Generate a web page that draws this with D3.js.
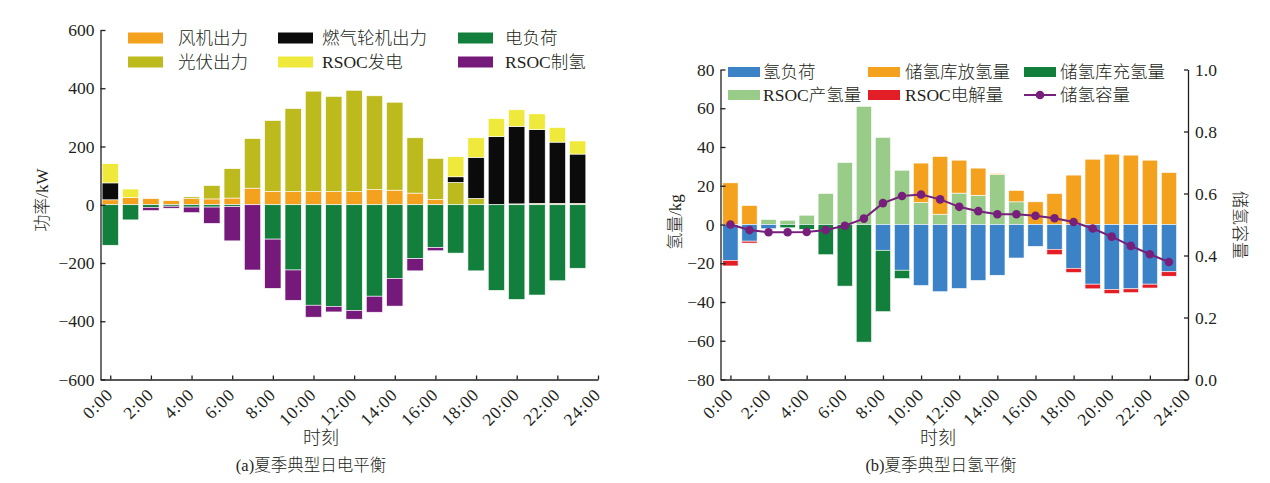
<!DOCTYPE html>
<html>
<head>
<meta charset="utf-8">
<script src="https://cdn.jsdelivr.net/npm/d3@7"></script>
<style>
    body { margin: 0; background: #fff; }
    svg text { font-family: "Liberation Serif", "Noto Sans CJK SC", serif; fill: #231f20; }
</style>
</head>
<body>
<div id="chart"></div>
<script>
// hours of the day and x tick labels
const hours = [0, 1, 2, 3, 4, 5, 6, 7, 8, 9, 10, 11, 12, 13, 14, 15, 16, 17, 18, 19, 20, 21, 22, 23];
const tickHours = [0, 2, 4, 6, 8, 10, 12, 14, 16, 18, 20, 22, 24];
const tickLabels = ["0:00", "2:00", "4:00", "6:00", "8:00", "10:00", "12:00", "14:00", "16:00", "18:00", "20:00", "22:00", "24:00"];

// (a) electric balance, kW
const windPower = [17, 25, 21, 14, 21, 20, 23, 57, 46, 45, 45, 45, 45, 52, 50, 40, 18, 0, 0, 0, 3, 5, 5, 5];
const pvPower = [0, 0, 0, 0, 6, 46, 101, 170, 243, 285, 345, 327, 348, 322, 302, 190, 141, 77, 22, 0, 0, 0, 0, 0];
const gasPower = [58, 0, 0, 0, 0, 0, 0, 0, 0, 0, 0, 0, 0, 0, 0, 0, 0, 19, 141, 234, 266, 253, 210, 169];
const rsocGen = [66, 29, 0, 0, 0, 0, 0, 0, 0, 0, 0, 0, 0, 0, 0, 0, 0, 69, 67, 62, 57, 54, 50, 45];
const elecLoad = [139, 52, 9, 5, 8, 8, 6, 0, 118, 224, 345, 349, 363, 314, 253, 185, 147, 166, 227, 294, 325, 310, 261, 218];
const rsocToH2 = [0, 0, 11, 7, 19, 56, 118, 224, 169, 104, 41, 19, 30, 55, 95, 42, 11, 0, 0, 0, 0, 0, 0, 0];
const elecTicks = [-600, -400, -200, 0, 200, 400, 600];

// (b) hydrogen balance, kg
const h2Load = [18.5, 8.6, 2.2, 0, 0, 0, 0, 0, 13.3, 23.6, 31.5, 34.7, 33, 28.9, 26.2, 17.3, 11.3, 12.8, 22.6, 30.8, 33.5, 33.2, 30.8, 24.4];
const rsocElec = [2.9, 1.0, 0, 0, 0, 0, 0, 0, 0, 0, 0, 0, 0, 0, 0, 0, 0, 2.8, 2.2, 2.4, 2.2, 2.0, 2.0, 2.3];
const storeCharge = [0, 0, 0, 1.7, 2.5, 15.6, 31.8, 60.7, 31.7, 4.3, 0, 0, 0, 0, 0, 0, 0, 0, 0, 0, 0, 0, 0, 0];
const rsocProd = [0, 0, 2.6, 2.2, 4.8, 16, 32, 61, 45, 28, 11.4, 5.3, 16.2, 15.1, 25.8, 11.7, 0, 0, 0, 0, 0, 0, 0, 0];
const storeRelease = [21.5, 9.8, 0, 0, 0, 0, 0, 0, 0, 0, 20.3, 29.8, 17, 14, 0.5, 5.9, 11.7, 16, 25.5, 33.7, 36.3, 35.8, 33.2, 26.8];
const storeLevel = [0.500, 0.482, 0.475, 0.475, 0.476, 0.482, 0.496, 0.519, 0.569, 0.592, 0.597, 0.581, 0.557, 0.543, 0.533, 0.533, 0.528, 0.520, 0.508, 0.487, 0.461, 0.431, 0.404, 0.379];
const h2Ticks = [-80, -60, -40, -20, 0, 20, 40, 60, 80];
const levelTicks = [0, 0.2, 0.4, 0.6, 0.8, 1.0];

const FONT = '"Liberation Serif", "Noto Sans CJK SC", serif';
const INK = "#231f20";

const svg = d3.create("svg")
    .attr("width", 1270)
    .attr("height", 483)
    .attr("viewBox", [0, 0, 1270, 483]);
svg.append("rect").attr("width", 1270).attr("height", 483).attr("fill", "#fff");


function _stackBars(rows, keys, colors, x, y, bw) {
    const series = d3.stack().keys(keys).offset(d3.stackOffsetDiverging)(rows);
    series.forEach((s, k) => {
        svg.append("g").attr("fill", colors[k])
            .selectAll("rect")
            .data(s.filter(d => d[0] !== d[1]))
            .join("rect")
            .attr("x", d => x(d.data.hour) - bw / 2)
            .attr("width", bw)
            .attr("y", d => y(Math.max(d[0], d[1])))
            .attr("height", d => Math.abs(y(d[0]) - y(d[1])))
            .attr("stroke", "#fff")
            .attr("stroke-width", 0.6);
    });
}

function _styleAxis(g) {
    g.attr("font-family", FONT).attr("font-size", 17.5);
    g.selectAll("path, line").attr("stroke", INK).attr("stroke-width", 1.3);
    g.selectAll("text").attr("fill", INK);
}

function _xAxis(x, y0) {
    const g = svg.append("g").attr("transform", `translate(0,${y0})`)
        .call(d3.axisBottom(x).tickValues(tickHours).tickFormat((d, i) => tickLabels[i])
            .tickSize(-4).tickSizeOuter(0));
    _styleAxis(g);
    g.selectAll("text")
        .attr("text-anchor", "end")
        .attr("letter-spacing", 0.8)
        .attr("y", 0)
        .attr("dy", "0.35em")
        .attr("transform", "translate(-1,12) rotate(-45)");
}

function _yAxisLeft(y, x0, ticks, fmt) {
    const g = svg.append("g").attr("transform", `translate(${x0},0)`)
        .call(d3.axisLeft(y).tickValues(ticks).tickFormat(fmt).tickSize(-5).tickSizeOuter(0).tickPadding(6));
    _styleAxis(g);
}

function _label(text, x, y, size, rot) {
    svg.append("text")
        .attr("transform", `translate(${x},${y}) rotate(${rot || 0})`)
        .attr("text-anchor", "middle")
        .attr("dy", "0.35em")
        .attr("font-size", size)
        .attr("font-weight", 300)
        .text(text);
}

function _legend(items, cols, rowsY, sw, sh) {
    items.forEach((it, i) => {
        const cx = cols[i % 3], cy = rowsY[Math.floor(i / 3)];
        if (it.line) {
            svg.append("line").attr("x1", cx[0]).attr("x2", cx[0] + sw)
                .attr("y1", cy).attr("y2", cy).attr("stroke", it.color).attr("stroke-width", 2);
            svg.append("circle").attr("cx", cx[0] + sw / 2).attr("cy", cy).attr("r", 4.3).attr("fill", it.color);
        } else {
            svg.append("rect").attr("x", cx[0]).attr("y", cy - sh / 2)
                .attr("width", sw).attr("height", sh).attr("fill", it.color);
        }
        svg.append("text").attr("x", cx[1]).attr("y", cy).attr("dy", "0.35em")
            .attr("font-size", 17.5).attr("font-weight", 300).text(it.name);
    });
}


function _plotElectric() {
    const x = d3.scaleLinear().domain([-0.48, 24]).range([100.5, 598]);
    const y = d3.scaleLinear().domain([-600, 600]).range([379.5, 30]);
    const rows = hours.map((h, i) => ({
        hour: h, wind: windPower[i], pv: pvPower[i], gas: gasPower[i], rsoc: rsocGen[i],
        load: -elecLoad[i], h2: -rsocToH2[i]
    }));
    _stackBars(rows, ["wind", "pv", "gas", "rsoc", "load", "h2"],
        ["#f4a11d", "#bcba1c", "#0b0b0b", "#eee93a", "#137f3c", "#751a7b"], x, y, 16.3);
    _xAxis(x, y(-600));
    _yAxisLeft(y, x(-0.48), elecTicks, d3.format("d"));

    _legend([
        {name: "风机出力", color: "#f4a11d"}, {name: "燃气轮机出力", color: "#0b0b0b"}, {name: "电负荷", color: "#137f3c"},
        {name: "光伏出力", color: "#bcba1c"}, {name: "RSOC发电", color: "#eee93a"}, {name: "RSOC制氢", color: "#751a7b"}
    ], [[128, 178], [278, 322], [458, 505]], [38, 62], 35, 11);

    _label("功率/kW", 42, 200, 17, -90);
    _label("时刻", 321, 438, 18);
    _label("(a)夏季典型日电平衡", 311, 465, 16.5);
}

function _plotHydrogen() {
    const x = d3.scaleLinear().domain([-0.52, 24]).range([720.5, 1188]);
    const y = d3.scaleLinear().domain([-80, 80]).range([379.5, 69.5]);
    const yR = d3.scaleLinear().domain([0, 1]).range([379.5, 69.5]);
    const rows = hours.map((h, i) => ({
        hour: h, prod: rsocProd[i], release: storeRelease[i],
        load: -h2Load[i], elec: -rsocElec[i], charge: -storeCharge[i]
    }));
    _stackBars(rows, ["prod", "release", "load", "elec", "charge"],
        ["#99cc89", "#f4a11d", "#3b83c6", "#e41e26", "#137f3c"], x, y, 15.3);

    const line = d3.line().x((d, i) => x(hours[i])).y(d => yR(d));
    svg.append("path").datum(storeLevel)
        .attr("fill", "none").attr("stroke", "#76207c").attr("stroke-width", 2)
        .attr("d", line);
    svg.append("g").attr("fill", "#76207c")
        .selectAll("circle").data(storeLevel).join("circle")
        .attr("cx", (d, i) => x(hours[i])).attr("cy", d => yR(d)).attr("r", 4.3);

    _xAxis(x, y(-80));
    _yAxisLeft(y, x(-0.52), h2Ticks, d3.format("d"));
    const gR = svg.append("g").attr("transform", `translate(${x(24)},0)`)
        .call(d3.axisRight(yR).tickValues(levelTicks).tickFormat(d3.format(".1f"))
            .tickSize(-4).tickSizeOuter(0).tickPadding(7));
    _styleAxis(gR);

    _legend([
        {name: "氢负荷", color: "#3b83c6"}, {name: "储氢库放氢量", color: "#f4a11d"}, {name: "储氢库充氢量", color: "#137f3c"},
        {name: "RSOC产氢量", color: "#99cc89"}, {name: "RSOC电解量", color: "#e41e26"}, {name: "储氢容量", color: "#76207c", line: true}
    ], [[728, 763], [868, 905], [1024, 1060]], [72, 95], 32, 10);

    _label("氢量/kg", 675, 222, 17, -90);
    _label("储氢容量", 1240, 225, 17, 90);
    _label("时刻", 938, 438, 18);
    _label("(b)夏季典型日氢平衡", 941, 465, 16.5);
}

_plotElectric();
_plotHydrogen();
document.getElementById("chart").appendChild(svg.node());
</script>
</body>
</html>
